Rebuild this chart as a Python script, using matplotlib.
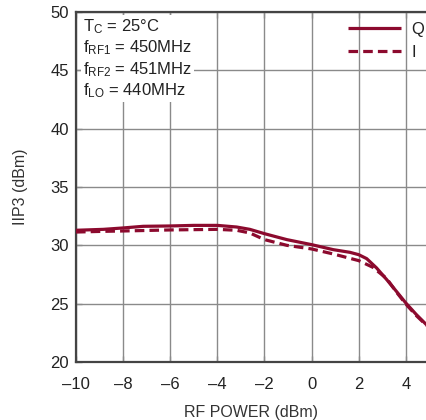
import matplotlib
matplotlib.use("Agg")
import matplotlib.pyplot as plt
from matplotlib import font_manager

rf_power_q = [-10, -8.84, -8, -7.15, -6, -5, -4, -3.18, -2.62, -2, -1.05, 0,
              0.92, 1.63, 2, 2.34, 2.76, 3.19, 3.6, 4, 4.45, 4.9]
iip3_q     = [31.29, 31.37, 31.49, 31.63, 31.66, 31.71, 31.71, 31.57, 31.37, 31.0, 30.49, 30.06,
              29.63, 29.4, 29.2, 28.86, 28.06, 27.06, 26.06, 25.06, 24.06, 23.15]

rf_power_i = [-10, -8.84, -8, -6, -4, -3.18, -2.62, -2, -1.05, 0,
              0.92, 2, 2.6, 3.19, 3.6, 4, 4.45, 4.9]
iip3_i     = [31.14, 31.2, 31.23, 31.32, 31.37, 31.29, 31.06, 30.49, 30.0, 29.69,
              29.26, 28.69, 28.12, 27.15, 26.0, 24.97, 23.97, 23.1]

x_ticks = [-10, -8, -6, -4, -2, 0, 2, 4]
y_ticks = [20, 25, 30, 35, 40, 45, 50]

LINE_COLOR = "#8c0a2e"
AXIS_COLOR = "#444444"
GRID_COLOR = "#8a8a8a"

names = {f.name for f in font_manager.fontManager.ttflist}
family = "Liberation Sans Narrow" if "Liberation Sans Narrow" in names else "Liberation Sans"
plt.rcParams["font.family"] = [family, "DejaVu Sans"]
plt.rcParams["mathtext.fontset"] = "custom"
plt.rcParams["mathtext.rm"] = family
plt.rcParams["mathtext.it"] = family
plt.rcParams["font.size"] = 12

fig = plt.figure(figsize=(4.27, 4.20), dpi=100)
ax = fig.add_axes([76 / 427, 1 - 362 / 420, 1 - 76 / 427, 350 / 420])

ax.plot(rf_power_q, iip3_q, color=LINE_COLOR, lw=2.3, label="Q", zorder=3,
        solid_joinstyle="round", solid_capstyle="butt")
ax.plot(rf_power_i, iip3_i, color=LINE_COLOR, lw=2.3, ls=(0, (3, 1.6)), label="I", zorder=3)

ax.set_xlim(-10, 4.9)
ax.set_ylim(20, 50)
ax.set_xticks(x_ticks)
ax.set_yticks(y_ticks)
ax.set_xticklabels([str(t).replace("-", "\u2013") for t in x_ticks])
ax.grid(True, color=GRID_COLOR, lw=1.0, zorder=1)
ax.tick_params(direction="in", length=4, width=1, color=GRID_COLOR,
               top=True, right=False, labelsize=12, labelcolor="#222222")
ax.tick_params(axis="x", pad=11)
ax.tick_params(axis="y", pad=5)

for side in ["left", "bottom", "top"]:
    ax.spines[side].set_color(AXIS_COLOR)
    ax.spines[side].set_linewidth(1.6)
ax.spines["right"].set_visible(False)

ax.set_xlabel("RF POWER (dBm)", fontsize=11.5, color="#333333", labelpad=9)
ax.set_ylabel("IIP3 (dBm)", fontsize=11.5, color="#333333", labelpad=16)

note = ("T$_\\mathregular{C}$ = 25°C\n"
        "f$_\\mathregular{RF1}$ = 450MHz\n"
        "f$_\\mathregular{RF2}$ = 451MHz\n"
        "f$_\\mathregular{LO}$ = 440MHz")
ax.text(0.02, 0.985, note, transform=ax.transAxes, ha="left", va="top",
        fontsize=12, color="#222222", linespacing=1.2, zorder=4,
        bbox=dict(facecolor="white", edgecolor="none", pad=1.5))

leg = ax.legend(loc="upper right", bbox_to_anchor=(1.02, 1.0), frameon=False,
                handlelength=3.2, handletextpad=0.6, labelspacing=0.5,
                fontsize=12, borderaxespad=0.2)
for t in leg.get_texts():
    t.set_color("#222222")

fig.savefig("out.png", dpi=100)
